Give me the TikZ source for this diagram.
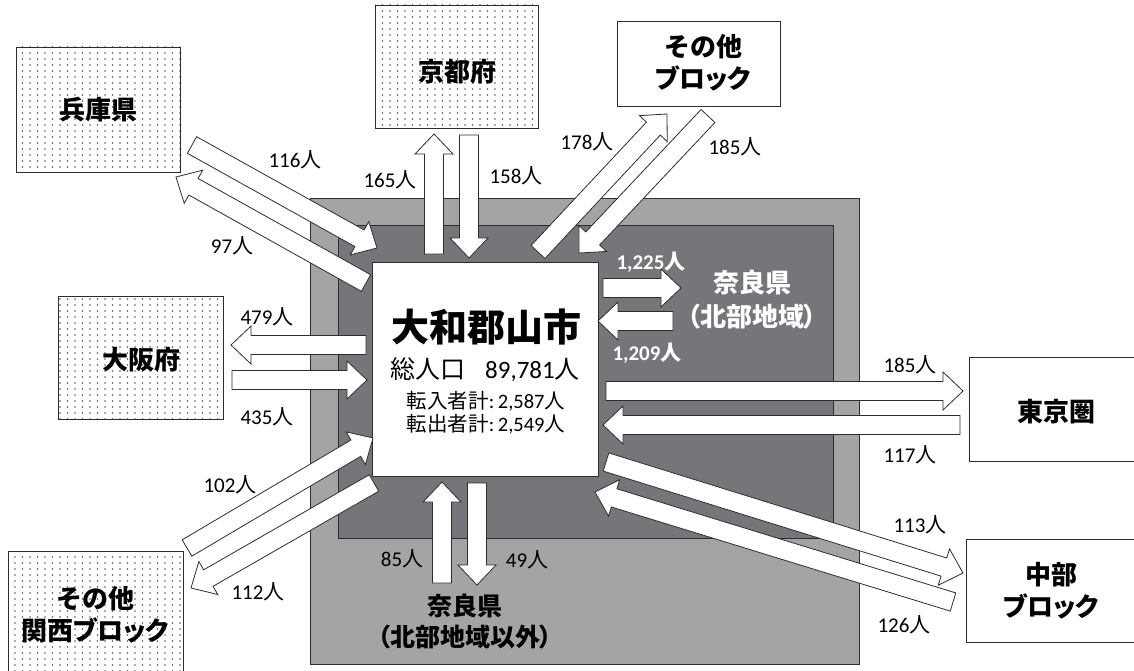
\documentclass[tikz,border=0pt]{standalone}
\usepackage{fontspec}
\usetikzlibrary{calc,patterns}
\newfontfamily\jpf{Noto Sans CJK JP}
\newfontfamily\jpp{Noto Sans CJK JP}[RawFeature=+palt]
\newfontfamily\calib{Carlito}
\definecolor{outerg}{RGB}{165,163,166}
\definecolor{innerg}{RGB}{118,118,122}
\definecolor{edgec}{RGB}{45,45,45}
\pgfdeclarepatternformonly{mydots}{\pgfqpoint{-1pt}{-1pt}}{\pgfqpoint{1pt}{1pt}}{\pgfqpoint{7.5pt}{6pt}}{\pgfpathcircle{\pgfqpoint{0pt}{0pt}}{0.85pt}\pgfusepath{fill}}
\newcommand\nin[1]{{\calib #1}{\jpf 人}}
\newcommand\barrow[2]{%
  \coordinate (ba-h) at ($(#2)!20pt!(#1)$);
  \draw[blockarr] ($(#1)!9.5pt!90:(#2)$) -- ($(ba-h)!9.5pt!90:(#2)$) -- ($(ba-h)!19pt!90:(#2)$) -- (#2) -- ($(ba-h)!19pt!-90:(#2)$) -- ($(ba-h)!9.5pt!-90:(#2)$) -- ($(#1)!9.5pt!-90:(#2)$) -- cycle;}
\tikzset{
  blockarr/.style={draw=edgec, line width=0.8pt, fill=white, line join=miter},
  dotbox/.style={draw=edgec, line width=0.8pt, preaction={fill=white}, pattern=mydots, pattern color=black!65, inner sep=0pt},
  plainbox/.style={draw=edgec, line width=0.8pt, fill=white, inner sep=0pt},
  place/.style={font=\jpf\bfseries\fontsize{26}{32}\selectfont, align=center, inner sep=0pt},
  num/.style={font=\fontsize{21}{24}\selectfont, inner sep=0pt},
  wnum/.style={font=\bfseries\fontsize{21}{24}\selectfont, text=white, inner sep=0pt},
}
\begin{document}
\begin{tikzpicture}[x=1pt,y=-1pt]
\useasboundingbox (0,0) rectangle (1134,671);
\clip (0,0) rectangle (1134,671);
\fill[white] (0,0) rectangle (1134,671);
% regions
\draw[fill=outerg, draw=edgec, line width=0.8pt] (310,198) rectangle (859,664);
\draw[fill=innerg, draw=edgec, line width=0.8pt] (338,225) rectangle (833,538);
\node[plainbox, minimum width=226pt, minimum height=214pt] (yamato) at (485,369) {};
\node[font=\jpf\bfseries\fontsize{38}{42}\selectfont, inner sep=0pt] (tname) at (486,327) {大和郡山市};
\node[inner sep=0pt] (tpop) at (485,370) {\fontsize{25}{28}\selectfont{\jpf 総人口}\hspace{20pt}\nin{89,781}};
\node[inner sep=0pt] (tin) at (486,401) {\fontsize{20.5}{24}\selectfont{\jpf 転入者計}{\calib :\,2,587}{\jpf 人}};
\node[inner sep=0pt] (tout) at (486,424) {\fontsize{20.5}{24}\selectfont{\jpf 転出者計}{\calib :\,2,549}{\jpf 人}};
% outside boxes
\node[dotbox, minimum width=164pt, minimum height=125pt] (hyogo) at (98,109.5) {};
\node[place] at (hyogo.center) {兵庫県};
\node[dotbox, minimum width=163pt, minimum height=123pt] (kyoto) at (456.5,66.5) {};
\node[place] at (457,72) {京都府};
\node[plainbox, minimum width=163pt, minimum height=85pt] (otherb) at (698.5,63.5) {};
\node[place] at (703,63) {その他\\{\jpp ブロック}};
\node[dotbox, minimum width=165pt, minimum height=123pt] (osaka) at (140.5,357.5) {};
\node[place] at (141,360) {大阪府};
\node[dotbox, minimum width=175pt, minimum height=140pt] (kansai) at (95.5,621) {};
\node[place] at (95,615) {その他\\関西{\jpp ブロック}};
\node[plainbox, minimum width=174pt, minimum height=104pt] (tokyo) at (1056,409) {};
\node[place] at (1056,412) {東京圏};
\node[plainbox, minimum width=170pt, minimum height=103pt] (chubu) at (1051,590.5) {};
\node[place] at (1051,591) {中部\\{\jpp ブロック}};
\node[place, text=white, font=\jpf\bfseries\fontsize{26}{34}\selectfont] (narakita) at (752,300) {奈良県\\{\jpp （}北部地域{\jpp ）}};
\node[place, font=\jpf\bfseries\fontsize{25}{31}\selectfont] (naraelse) at (465,622) {奈良県\\{\jpp （}北部地域以外{\jpp ）}};
% arrow end points
\coordinate (hy-a) at (192,145); \coordinate (hy-b) at (377,248);
\coordinate (hy-c) at (366,283); \coordinate (hy-d) at (176,177);
\coordinate (ky-a) at (434,254); \coordinate (ky-b) at (434,134);
\coordinate (ky-c) at (469,135); \coordinate (ky-d) at (469,258);
\coordinate (ot-a) at (538,252); \coordinate (ot-b) at (667,114);
\coordinate (ot-c) at (708,116); \coordinate (ot-d) at (579,253);
\coordinate (nk-a) at (603,288); \coordinate (nk-b) at (681,288);
\coordinate (nk-c) at (673,321); \coordinate (nk-d) at (598,321);
\coordinate (tk-a) at (606,391); \coordinate (tk-b) at (963,391);
\coordinate (tk-c) at (960,425); \coordinate (tk-d) at (603,425);
\coordinate (ch-a) at (606,462); \coordinate (ch-b) at (963,573);
\coordinate (ch-c) at (953,602); \coordinate (ch-d) at (595,492);
\coordinate (ks-a) at (187,548); \coordinate (ks-b) at (373,438);
\coordinate (ks-c) at (374,483); \coordinate (ks-d) at (191,588);
\coordinate (nr-a) at (442,583); \coordinate (nr-b) at (442,482);
\coordinate (nr-c) at (477,483); \coordinate (nr-d) at (477,585);
\coordinate (os-a) at (366,345); \coordinate (os-b) at (231,345);
\coordinate (os-c) at (232,380); \coordinate (os-d) at (367,380);
\barrow{hy-a}{hy-b} \barrow{hy-c}{hy-d}
\barrow{ky-a}{ky-b} \barrow{ky-c}{ky-d}
\barrow{ot-a}{ot-b} \barrow{ot-c}{ot-d}
\barrow{nk-a}{nk-b} \barrow{nk-c}{nk-d}
\barrow{tk-a}{tk-b} \barrow{tk-c}{tk-d}
\barrow{ch-a}{ch-b} \barrow{ch-c}{ch-d}
\barrow{ks-a}{ks-b} \barrow{ks-c}{ks-d}
\barrow{nr-a}{nr-b} \barrow{nr-c}{nr-d}
\barrow{os-a}{os-b} \barrow{os-c}{os-d}
% labels
\node[num] (l116) at (295,160) {\nin{116}};
\node[num] (l97) at (232,246) {\nin{97}};
\node[num] (l165) at (390,180) {\nin{165}};
\node[num] (l158) at (516,176) {\nin{158}};
\node[num] (l178) at (587,142) {\nin{178}};
\node[num] (l185a) at (735,147) {\nin{185}};
\node[wnum] (l1225) at (651,262) {{\calib 1,225}{\jpf 人}};
\node[wnum] (l1209) at (647,353) {{\calib 1,209}{\jpf 人}};
\node[num] (l479) at (267,317) {\nin{479}};
\node[num] (l435) at (267,417) {\nin{435}};
\node[num] (l185b) at (910,365) {\nin{185}};
\node[num] (l117) at (910,455) {\nin{117}};
\node[num] (l113) at (920,525) {\nin{113}};
\node[num] (l126) at (904,625) {\nin{126}};
\node[num] (l102) at (230,485) {\nin{102}};
\node[num] (l112) at (258,592) {\nin{112}};
\node[num] (l85) at (402,559) {\nin{85}};
\node[num] (l49) at (527,560) {\nin{49}};
\end{tikzpicture}
\end{document}
